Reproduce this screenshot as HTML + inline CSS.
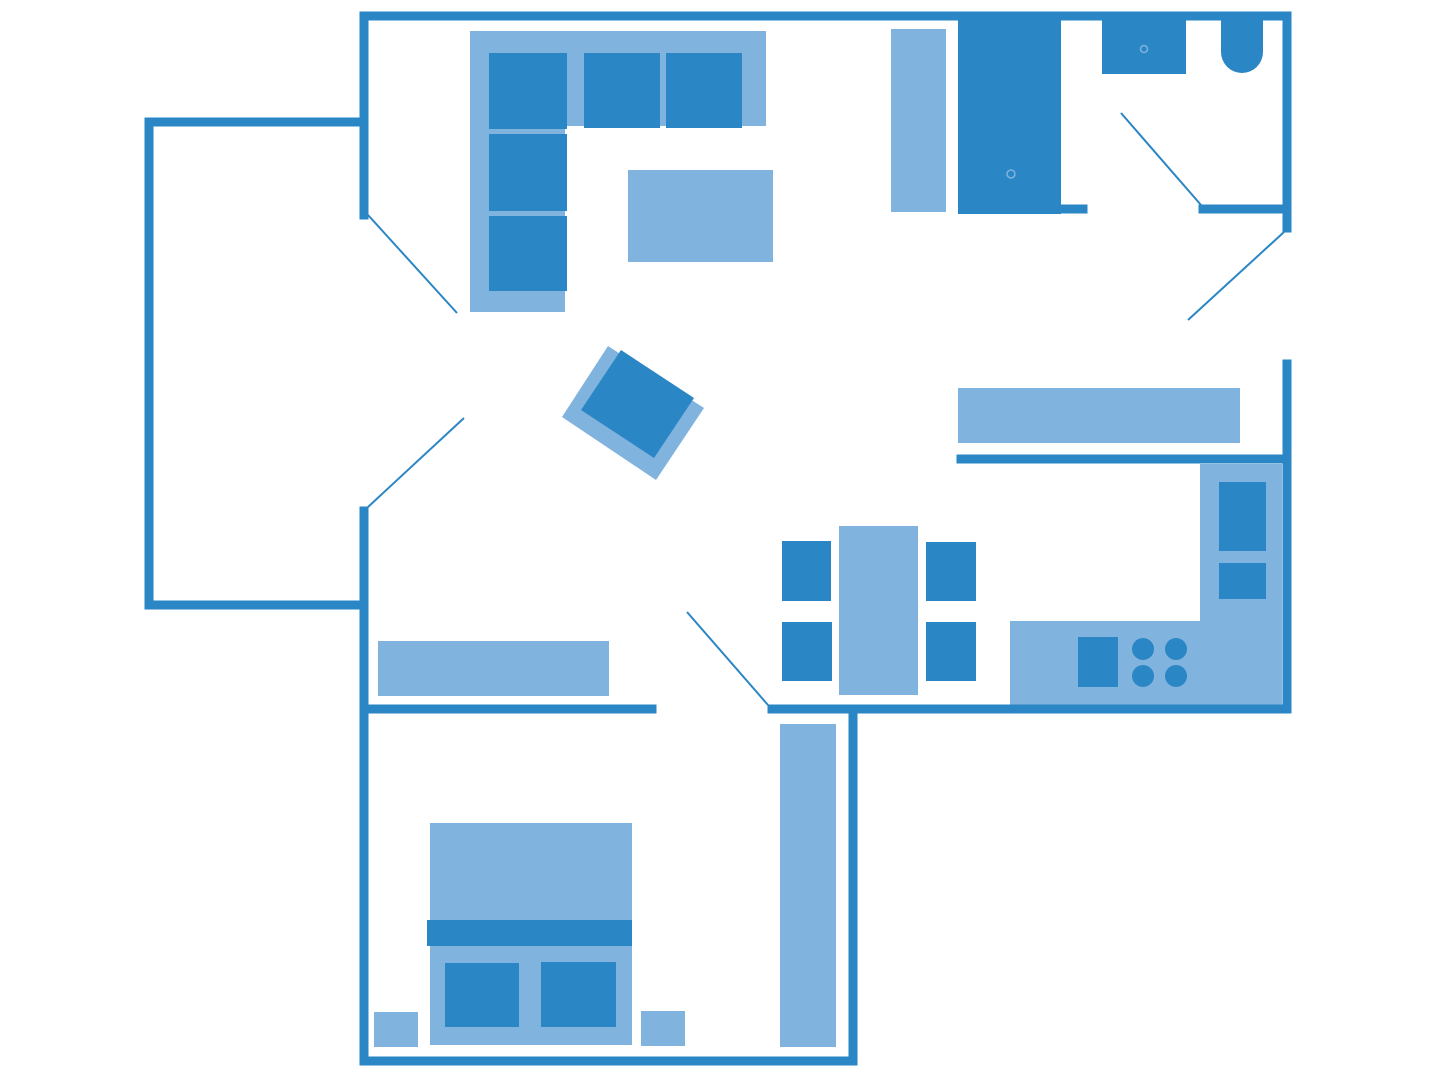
<!DOCTYPE html>
<html><head><meta charset="utf-8"><style>html,body{margin:0;padding:0;background:#fff}svg{display:block}</style></head>
<body>
<svg width="1440" height="1080" viewBox="0 0 1440 1080" xmlns="http://www.w3.org/2000/svg">
<g fill="#80b3dd">
<rect x="470" y="31" width="296" height="95"/>
<rect x="470" y="31" width="95" height="281"/>
<rect x="628" y="170" width="145" height="92"/>
<rect x="891" y="29" width="55" height="183"/>
<rect x="958" y="388" width="282" height="55"/>
<rect x="1200" y="464" width="82" height="241"/>
<rect x="1010" y="621" width="272" height="84"/>
<rect x="839" y="526" width="79" height="169"/>
<rect x="378" y="641" width="231" height="55"/>
<rect x="780" y="724" width="56" height="323"/>
<rect x="430" y="823" width="202" height="222"/>
<rect x="374" y="1012" width="44" height="35"/>
<rect x="641" y="1011" width="44" height="35"/>
<polygon points="608,346 704,408 656,480 562,417"/>
</g>
<g fill="#2a86c4">
<rect x="489" y="53" width="78" height="76"/>
<rect x="584" y="53" width="76" height="75"/>
<rect x="666" y="53" width="76" height="75"/>
<rect x="489" y="134" width="78" height="77"/>
<rect x="489" y="216" width="78" height="75"/>
<rect x="958" y="14" width="103" height="200"/>
<rect x="1102" y="18" width="84" height="56"/>
<path d="M1221 18 H1263 V52 A21 21 0 0 1 1221 52 Z"/>
<rect x="1219" y="482" width="47" height="69"/>
<rect x="1219" y="563" width="47" height="36"/>
<rect x="1078" y="637" width="40" height="50"/>
<circle cx="1143" cy="649" r="11"/><circle cx="1176" cy="649" r="11"/>
<circle cx="1143" cy="676" r="11"/><circle cx="1176" cy="676" r="11"/>
<rect x="782" y="541" width="49" height="60"/>
<rect x="926" y="542" width="50" height="59"/>
<rect x="782" y="622" width="50" height="59"/>
<rect x="926" y="622" width="50" height="59"/>
<rect x="427" y="920" width="205" height="26"/>
<rect x="445" y="963" width="74" height="64"/>
<rect x="541" y="962" width="75" height="65"/>
<polygon points="621,350 694,398 654,458 581,410"/>
</g>
<g fill="none" stroke="#80b3dd" stroke-width="1.5">
<circle cx="1144" cy="49" r="3.5"/><circle cx="1011" cy="174" r="4"/>
</g>
<g stroke="#2a86c4" stroke-width="9" fill="none" stroke-linecap="square">
<path d="M364 215 V16 H1287 V228"/>
<path d="M1287 364 V709"/>
<path d="M364 122 H149 V605 H364"/>
<path d="M364 511 V1061 H853 V709"/>
<path d="M364 709 H652"/>
<path d="M772 709 H1287"/>
<path d="M961 459 H1287"/>
<path d="M1040 209 H1083"/>
<path d="M1203 209 H1287"/>
</g>
<g stroke="#2a86c4" stroke-width="2" fill="none">
<line x1="368" y1="215" x2="457" y2="313"/>
<line x1="368" y1="507" x2="464" y2="418"/>
<line x1="1121" y1="113" x2="1201" y2="205"/>
<line x1="1284" y1="232" x2="1188" y2="320"/>
<line x1="687" y1="612" x2="768" y2="705"/>
</g>
</svg>
</body></html>
